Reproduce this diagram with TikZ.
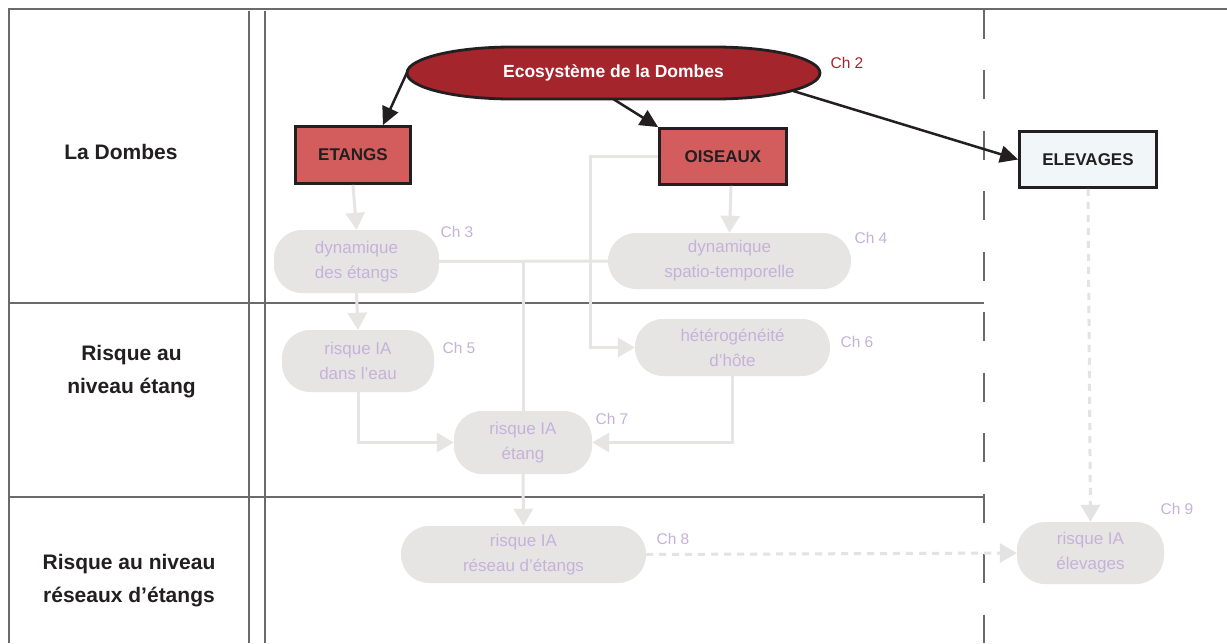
\documentclass[tikz,border=0pt]{standalone}
\usepackage{fontspec}
\setmainfont{Liberation Sans}
\usetikzlibrary{arrows.meta,calc}
\definecolor{frameg}{HTML}{6A6A6A}
\definecolor{ink}{HTML}{231F20}
\definecolor{ecored}{HTML}{A4262C}
\definecolor{boxred}{HTML}{D35C5C}
\definecolor{elevfill}{HTML}{F1F6F9}
\definecolor{gfill}{HTML}{E6E5E4}
\definecolor{glinec}{HTML}{E6E5E4}
\definecolor{gdashc}{HTML}{E3E3E3}
\definecolor{ptext}{HTML}{C6B2D9}
\begin{document}
\begin{tikzpicture}[x=1pt,y=-1pt,
  frame/.style={draw=frameg,line width=2.5pt},
  title/.style={font=\bfseries\fontsize{21}{33}\selectfont,text=ink,align=center,inner sep=0pt},
  redbox/.style={draw=ink,line width=2.8pt,fill=boxred,font=\bfseries\fontsize{17}{20}\selectfont,text=ink,inner sep=0pt},
  gnode/.style={fill=gfill,rounded corners=28pt,text=ptext,align=center,font=\fontsize{17}{25}\selectfont,inner sep=0pt},
  chlab/.style={text=ptext,font=\fontsize{15.5}{18}\selectfont,inner sep=0pt},
  blk/.style={draw=ink,line width=2.5pt,-{Triangle[length=18pt,width=17pt]}},
  garr/.style={draw=glinec,line width=3pt,-{Triangle[length=17pt,width=19pt]}},
  gplain/.style={draw=glinec,line width=3pt},
  gdash/.style={draw=gdashc,line width=3pt,dash pattern=on 7pt off 6pt,-{Triangle[length=17pt,width=19pt]}},
  rad/.style={x radius=105pt,y radius=26pt}
]
\useasboundingbox (0,0) rectangle (1227,643);
\fill[white] (0,0) rectangle (1227,643);

% frame
\draw[frame] (9,643) -- (9,9) -- (1227,9);
\draw[frame] (249,11) -- (249,643);
\draw[frame] (265,11) -- (265,643);
\draw[frame] (9,303) -- (984,303);
\draw[frame] (9,497) -- (984,497);
\draw[frame,dash pattern=on 29pt off 31.5pt] (984,9.5) -- (984,643);

% row titles
\node[title] (t1) at (121,152) {La Dombes};
\node[title] (t2) at (131.5,372) {Risque au\\niveau étang};
\node[title] (t3) at (129,581) {Risque au niveau\\réseaux d’étangs};

% ecosystem shape
\draw[draw=ink,line width=2.8pt,fill=ecored]
  (407,73) arc[start angle=180,end angle=90,rad] -- (715,47)
  arc[start angle=90,end angle=0,rad]
  arc[start angle=0,end angle=-90,rad] -- (512,99)
  arc[start angle=-90,end angle=-180,rad] -- cycle;
\node[inner sep=0pt,minimum width=413pt,minimum height=52pt,text=white,
  font=\bfseries\fontsize{17.5}{20}\selectfont] (eco) at (613.5,73) {Ecosystème de la Dombes};
\node[inner sep=0pt,text=ecored,font=\fontsize{15.5}{18}\selectfont] (ch2) at (847,63) {Ch 2};

% main boxes
\node[redbox,minimum width=115pt,minimum height=57pt] (etangs) at (353,155) {ETANGS};
\node[redbox,minimum width=127pt,minimum height=56pt] (ois) at (723,156.5) {OISEAUX};
\node[redbox,fill=elevfill,minimum width=137pt,minimum height=56pt] (elev) at (1088,159.5) {ELEVAGES};

% grey nodes
\node[gnode,minimum width=165pt,minimum height=63pt] (dynet) at (356.5,261.5) {dynamique\\des étangs};
\node[gnode,minimum width=243pt,minimum height=56pt] (spatio) at (729.5,261) {dynamique\\spatio-temporelle};
\node[gnode,minimum width=152pt,minimum height=62pt] (eau) at (358,361) {risque IA\\dans l’eau};
\node[gnode,minimum width=195pt,minimum height=57pt] (het) at (732.5,347.5) {hétérogénéité\\d’hôte};
\node[gnode,minimum width=138pt,minimum height=63pt] (etang) at (523,442.5) {risque IA\\étang};
\node[gnode,minimum width=245pt,minimum height=57pt] (reseau) at (523.5,554.5) {risque IA\\réseau d’étangs};
\node[gnode,minimum width=147pt,minimum height=62pt] (elev2) at (1090.5,553) {risque IA\\élevages};

% chapter labels
\node[chlab] (ch3) at (457,232) {Ch 3};
\node[chlab] (ch4) at (871,238) {Ch 4};
\node[chlab] (ch5) at (459,348) {Ch 5};
\node[chlab] (ch6) at (857,342) {Ch 6};
\node[chlab] (ch7) at (612,419) {Ch 7};
\node[chlab] (ch8) at (673,539) {Ch 8};
\node[chlab] (ch9) at (1177,509) {Ch 9};

% black arrows
\draw[blk] (eco.west) -- (etangs.45);
\draw[blk] (eco.south) -- (ois.north west);
\draw[blk,shorten <=-28pt] (eco.south east) -- (elev.west);

% grey connectors
\draw[garr] (etangs.south) -- (dynet.north);
\draw[garr] (dynet.south) -- (eau.north);
\draw[garr] (eau.south) |- (etang.west);
\draw[garr] (het.south) |- (etang.east);
\draw[garr] (ois.west) -- ++(-68,0) |- (het.west);
\draw[garr] ($(ois.south)+(8,0)$) -- (spatio.north);
\draw[gplain] (dynet.east) -- (spatio.west);
\draw[gplain] (etang.north |- dynet.east) -- (etang.north);
\draw[garr] (etang.south) -- (reseau.north);
\draw[gdash] (reseau.east) -- (elev2.west);
\draw[gdash] (elev.south) -- (elev2.north);
\end{tikzpicture}
\end{document}
